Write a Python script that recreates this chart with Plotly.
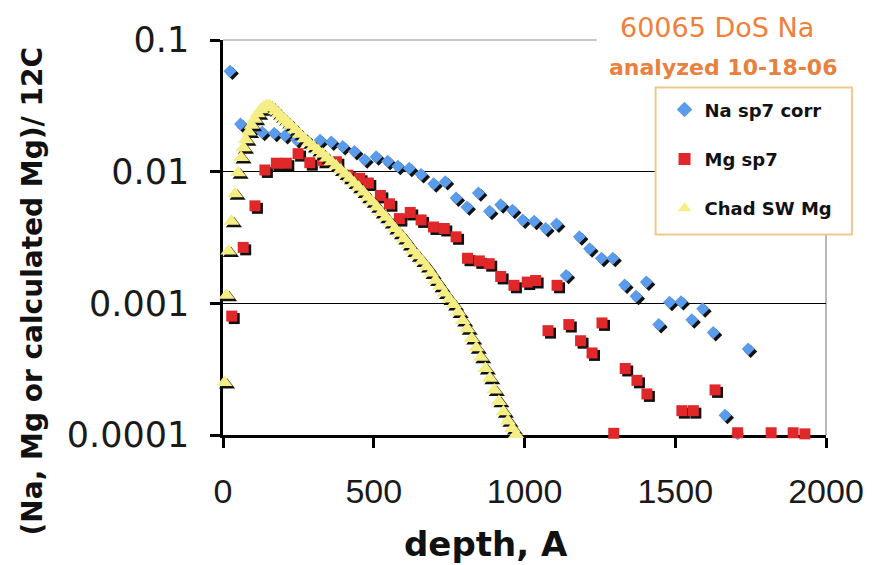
import plotly.graph_objects as go

# ---------------- data ----------------
na_depth = [23, 58, 95, 130, 170, 206, 244, 282, 322, 359,
            397, 436, 470, 508, 546, 580, 618, 657, 699, 737,
            773, 809, 847, 884, 921, 960, 994, 1032, 1070, 1106,
            1138, 1182, 1216, 1255, 1293, 1332, 1370, 1404, 1445, 1481,
            1519, 1555, 1591, 1626, 1665, 1707, 1742]
na_ratio = [0.058, 0.023, 0.021, 0.0199, 0.0196, 0.0188, 0.0175, 0.017, 0.0173, 0.0168,
            0.0155, 0.0142, 0.0123, 0.0130, 0.0120, 0.0110, 0.0106, 0.0095, 0.0081, 0.0084,
            0.0063, 0.0054, 0.0069, 0.0050, 0.0056, 0.0051, 0.0043, 0.0042, 0.0037, 0.0040,
            0.00163, 0.0032, 0.0026, 0.0022, 0.0022, 0.00138, 0.00113, 0.00145, 0.00069, 0.00102,
            0.00103, 0.00075, 0.00091, 0.00060, 0.000141, 0.000102, 0.00045]

mg_depth = [29, 67, 106, 139, 177, 210, 249, 288, 330, 376,
            414, 453, 482, 522, 552, 585, 621, 657, 698, 734,
            773, 811, 850, 883, 921, 965, 1009, 1037, 1078, 1108,
            1147, 1186, 1224, 1257, 1296, 1334, 1373, 1406, 1522, 1560,
            1632, 1707, 1818, 1891, 1930]
mg_ratio = [0.00080, 0.00266, 0.0055, 0.0103, 0.0116, 0.0116, 0.0137, 0.0117, 0.0122, 0.0119,
            0.0094, 0.0089, 0.0082, 0.0066, 0.0057, 0.0044, 0.0049, 0.0043, 0.0038, 0.0037,
            0.0032, 0.0022, 0.0021, 0.0020, 0.0016, 0.00137, 0.00145, 0.00149, 0.00062, 0.00137,
            0.00069, 0.00052, 0.00042, 0.00071, 0.000103, 0.00032, 0.00026, 0.000205, 0.000153, 0.000153,
            0.00022, 0.000104, 0.000104, 0.000104, 0.000102]

chad_depth = [5, 12, 18, 28, 40, 50, 60, 68, 76, 85,
              95, 105, 115, 125, 135, 145, 155, 165, 175, 185,
              195, 205, 215, 225, 240, 255, 270, 285, 300, 315,
              330, 345, 360, 375, 390, 405, 420, 435, 450, 465,
              480, 495, 510, 525, 540, 555, 570, 585, 600, 615,
              630, 645, 660, 675, 690, 705, 720, 735, 750, 765,
              780, 795, 810, 825, 840, 855, 870, 885, 900, 915,
              930, 945, 960, 972]
chad_ratio = [0.00025, 0.00115, 0.0025, 0.0042, 0.0068, 0.0098, 0.0128, 0.0152, 0.0175, 0.020,
              0.0225, 0.025, 0.0275, 0.0295, 0.031, 0.032, 0.0318, 0.0305, 0.029, 0.0275,
              0.026, 0.0248, 0.0236, 0.0225, 0.0208, 0.0192, 0.0178, 0.0166, 0.0155, 0.0145,
              0.0136, 0.0127, 0.0119, 0.0111, 0.0103, 0.0096, 0.0089, 0.0082, 0.0076, 0.0070,
              0.0064, 0.0059, 0.0054, 0.0049, 0.0045, 0.0041, 0.0037, 0.0034, 0.0031, 0.0028,
              0.0025, 0.0023, 0.0021, 0.0019, 0.0017, 0.0015, 0.00135, 0.0012, 0.00108, 0.00098,
              0.00086, 0.00074, 0.00064, 0.00054, 0.00046, 0.00039, 0.00032, 0.00027, 0.00022, 0.00018,
              0.00015, 0.000128, 0.000112, 0.000101]

series_names = ["Na sp7 corr", "Mg sp7", "Chad SW Mg"]
x_tickvals = [0, 500, 1000, 1500, 2000]
y_tickvals = [0.0001, 0.001, 0.01, 0.1]
y_ticktext = ["0.0001", "0.001", "0.01", "0.1"]

# ---------------- layout constants ----------------
OFF = 8                      # default page margin of the html body
W, H = 876 - OFF, 565 - OFF
ML, MT = 223 - OFF, 35 - OFF
PW, PH = 828 - 223, 435 - 35
MR, MB = W - ML - PW, H - MT - PH
XMAX = 2000.0
DECADES = 3.0

# marker drop-shadow offset (px right / down), expressed through the axis scales
SH_PX = 2.5
sh_dx = SH_PX * XMAX / PW
sh_fy = 10 ** (-SH_PX * DECADES / PH)


def px_x(p):
    """window pixel x -> paper coordinate"""
    return (p - OFF - ML) / PW


def px_y(p):
    """window pixel y -> paper coordinate"""
    return (MT + PH - (p - OFF)) / PH


fig = go.Figure()

styles = [
    (na_depth, na_ratio, "diamond", "#5A9CEB", 10),
    (mg_depth, mg_ratio, "square", "#E0282A", 11),
    (chad_depth, chad_ratio, "triangle-up", "#F5EE84", 14),
]

for i, (xs, ys, sym, col, sz) in enumerate(styles):
    fig.add_trace(go.Scatter(
        x=[v + sh_dx for v in xs], y=[v * sh_fy for v in ys],
        mode="markers", showlegend=False, hoverinfo="skip", cliponaxis=False,
        marker=dict(symbol=sym, size=sz, color="#111111", line=dict(width=0)),
    ))
    fig.add_trace(go.Scatter(
        x=xs, y=ys, name=series_names[i], legendgroup=f"g{i}",
        mode="markers", cliponaxis=False,
        marker=dict(symbol=sym, size=sz, color=col, line=dict(width=0)),
    ))

fig.update_layout(
    width=W, height=H,
    margin=dict(l=ML, r=MR, t=MT, b=MB, pad=0),
    paper_bgcolor="white", plot_bgcolor="white",
    showlegend=True,
    legend=dict(
        x=px_x(666), y=px_y(87), xanchor="left", yanchor="top",
        bgcolor="rgba(0,0,0,0)", borderwidth=0,
        font=dict(family="DejaVu Sans", size=18, color="#111111", weight="bold"),
        itemsizing="constant", tracegroupgap=23,
    ),
    xaxis=dict(
        range=[0, XMAX], tickvals=x_tickvals,
        showgrid=False, zeroline=False,
        showline=True, linecolor="black", linewidth=2.5,
        ticks="outside", ticklen=10, tickwidth=2.5, tickcolor="black",
        tickfont=dict(family="Liberation Sans", size=34, color="#1a1a1a"),
        ticklabelstandoff=14, layer="below traces",
    ),
    yaxis=dict(
        type="log", range=[-4, -1], tickvals=y_tickvals, ticktext=y_ticktext,
        showgrid=True, gridcolor="black", gridwidth=1, zeroline=False,
        showline=True, linecolor="black", linewidth=2.5,
        ticks="outside", ticklen=10, tickwidth=2.5, tickcolor="black",
        tickfont=dict(family="DejaVu Sans", size=35, color="#1a1a1a"),
        ticklabelstandoff=14, layer="below traces",
    ),
    shapes=[
        # plot-area border (top and right), light gray
        dict(type="line", xref="paper", yref="paper", x0=0, x1=px_x(598), y0=1, y1=1,
             line=dict(color="#B5B5B5", width=1.5), layer="between"),
        dict(type="line", xref="paper", yref="paper", x0=1, x1=1, y0=0, y1=px_y(83),
             line=dict(color="#A0A0A0", width=1.5), layer="between"),
        # legend box
        dict(type="rect", xref="paper", yref="paper",
             x0=px_x(657), x1=px_x(854), y0=px_y(232), y1=px_y(83),
             line=dict(color="#F0C88C", width=2), fillcolor="white", layer="above"),
    ],
    annotations=[
        dict(text="60065 DoS Na", xref="paper", yref="paper", x=px_x(719), y=px_y(22),
             xanchor="center", yanchor="middle", showarrow=False, bgcolor="white",
             font=dict(family="DejaVu Sans", size=27, color="#F07F3C")),
        dict(text="analyzed 10-18-06", xref="paper", yref="paper", x=px_x(725), y=px_y(63),
             xanchor="center", yanchor="middle", showarrow=False, bgcolor="white",
             font=dict(family="DejaVu Sans", size=22, color="#E8803E", weight="bold")),
        dict(text="depth, A", xref="paper", yref="paper", x=px_x(487), y=px_y(545),
             xanchor="center", yanchor="middle", showarrow=False,
             font=dict(family="DejaVu Sans", size=34, color="#111111", weight="bold")),
        dict(text="(Na, Mg or calculated Mg)/ 12C", xref="paper", yref="paper",
             x=px_x(32), y=px_y(290), textangle=-90,
             xanchor="center", yanchor="middle", showarrow=False,
             font=dict(family="DejaVu Sans", size=28, color="#111111", weight="bold")),
    ],
)

fig.write_html("out.html")
